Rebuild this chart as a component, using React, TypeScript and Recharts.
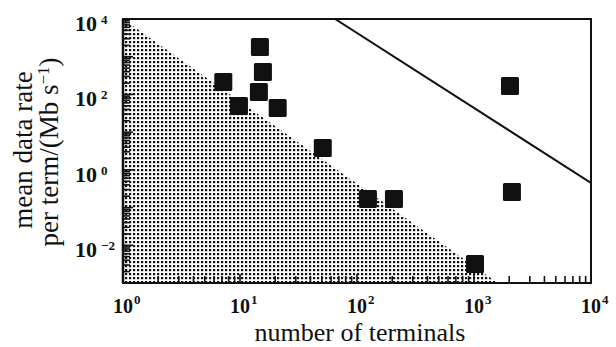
import { ComposedChart, XAxis, YAxis, Area, Line, Scatter, ReferenceArea } from "recharts";

const INK = "#111";
const SERIF = '"Liberation Serif", "DejaVu Serif", serif';

// measured systems: number of terminals vs mean data rate per terminal (Mb/s)
const terminals = [14.8, 15.7, 7.2, 14.5, 9.8, 21, 51, 124, 207, 1020, 2030, 2110];
const dataRate = [1820, 395, 215, 116, 49.5, 43.8, 3.8, 0.169, 0.169, 0.0032, 168, 0.26];

// dotted region boundary (top-left corner down to bottom axis)
const shadeTerminals = [1, 1600];
const shadeRate = [10000, 0.001];

// solid limit line
const limitTerminals = [65, 10000];
const limitRate = [10000, 0.45];

// axes
const X_DECADES = [1, 10, 100, 1000, 10000];
const Y_DECADES = [0.001, 0.01, 0.1, 1, 10, 100, 1000, 10000];
const X_LABELED = [1, 10, 100, 1000, 10000];
const Y_LABELED = [0.01, 1, 100, 10000];
const MINOR_STEPS = [2, 3, 4, 5, 6, 7, 8, 9];

const withMinors = (decades: number[]) =>
  decades.flatMap((d, i) =>
    i === decades.length - 1 ? [d] : [d, ...MINOR_STEPS.map((m) => +(d * m).toPrecision(3))]
  );

const X_TICKS = withMinors(X_DECADES);
const Y_TICKS = withMinors(Y_DECADES);
const X_DOMAIN = [X_DECADES[0], X_DECADES[X_DECADES.length - 1]];
const Y_DOMAIN = [Y_DECADES[0], Y_DECADES[Y_DECADES.length - 1]];

const points = terminals.map((x, i) => ({ x, y: dataRate[i] }));
const shade = shadeTerminals.map((x, i) => ({ x, y: shadeRate[i] }));
const limit = limitTerminals.map((x, i) => ({ x, y: limitRate[i] }));

const expOf = (v: number) => {
  const e = Math.round(Math.log10(v));
  return e < 0 ? `\u2212${-e}` : `${e}`;
};

function XTick(props: any) {
  const { x, y, payload } = props;
  const v = payload.value;
  const major = X_DECADES.includes(v);
  return (
    <g>
      <line x1={x} x2={x} y1={y} y2={y - (major ? 9 : 7)} stroke={INK} strokeWidth={1.6} />
      {X_LABELED.includes(v) && (
        <g fontFamily={SERIF} fontWeight="bold" fill={INK}>
          <text x={x} y={y + 30} fontSize={20} textAnchor="middle">
            10
          </text>
          <text x={x + 11} y={y + 21} fontSize={13} textAnchor="start">
            {expOf(v)}
          </text>
        </g>
      )}
    </g>
  );
}

function YTick(props: any) {
  const { x, y, payload } = props;
  const v = payload.value;
  const major = Y_DECADES.includes(v);
  return (
    <g>
      <line x1={x} x2={x + (major ? 10 : 7)} y1={y} y2={y} stroke={INK} strokeWidth={1.6} />
      {Y_LABELED.includes(v) && (
        <g fontFamily={SERIF} fontWeight="bold" fill={INK}>
          <text x={x - 26} y={y + 12} fontSize={22} textAnchor="end">
            10
          </text>
          <text x={x - 22} y={y + 5} fontSize={13} textAnchor="start">
            {expOf(v)}
          </text>
        </g>
      )}
    </g>
  );
}

const Square = (props: any) => {
  const { cx, cy } = props;
  return <rect x={cx - 9} y={cy - 9} width={18} height={18} rx={1.5} fill={INK} />;
};

const renderXTitle = (props: any) => {
  const vb = props.viewBox;
  return (
    <text
      x={vb.x + vb.width / 2 + 3}
      y={vb.y + 58}
      textAnchor="middle"
      fontFamily={SERIF}
      fontSize={26}
      fill={INK}
    >
      number of terminals
    </text>
  );
};

const renderYTitle = () => (
  <g fontFamily={SERIF} fontSize={27} fill={INK}>
    <text transform="translate(32,150) rotate(-90)" textAnchor="middle">
      mean data rate
    </text>
    <text transform="translate(58,152) rotate(-90)" textAnchor="middle">
      per term/(Mb s
      <tspan dy={-9} fontSize={17}>
        {"\u22121"}
      </tspan>
      <tspan dy={9}>)</tspan>
    </text>
  </g>
);

export default function App() {
  return (
    <div style={{ position: "absolute", left: 0, top: 0, width: 616, height: 347, background: "#fff" }}>
      <ComposedChart width={616} height={347} margin={{ top: 19, right: 25, bottom: 0, left: 0 }}>
        <defs>
          <pattern id="dots" x={0} y={0} width={4} height={4} patternUnits="userSpaceOnUse">
            <rect x={1} y={1} width={2.2} height={2.2} fill={INK} />
          </pattern>
        </defs>
        <XAxis
          dataKey="x"
          type="number"
          scale="log"
          domain={X_DOMAIN}
          allowDataOverflow
          ticks={X_TICKS}
          interval={0}
          tickSize={0}
          tickMargin={0}
          tickLine={false}
          tick={XTick}
          height={64}
          axisLine={{ stroke: INK, strokeWidth: 2 }}
          label={renderXTitle}
        />
        <YAxis
          dataKey="y"
          type="number"
          scale="log"
          domain={Y_DOMAIN}
          allowDataOverflow
          ticks={Y_TICKS}
          interval={0}
          tickSize={0}
          tickMargin={0}
          tickLine={false}
          tick={YTick}
          width={123}
          axisLine={{ stroke: INK, strokeWidth: 2.5 }}
          label={renderYTitle}
        />
        <Area
          data={shade}
          dataKey="y"
          type="linear"
          baseValue={Y_DOMAIN[0]}
          stroke="none"
          fill="url(#dots)"
          fillOpacity={1}
          isAnimationActive={false}
        />
        <Line
          data={limit}
          dataKey="y"
          type="linear"
          stroke={INK}
          strokeWidth={2}
          dot={false}
          isAnimationActive={false}
        />
        <ReferenceArea
          x1={X_DOMAIN[0]}
          x2={X_DOMAIN[1]}
          y1={Y_DOMAIN[0]}
          y2={Y_DOMAIN[1]}
          fill="none"
          stroke={INK}
          strokeWidth={2}
          ifOverflow="visible"
        />
        <Scatter data={points} dataKey="y" shape={Square} isAnimationActive={false} />
      </ComposedChart>
    </div>
  );
}
